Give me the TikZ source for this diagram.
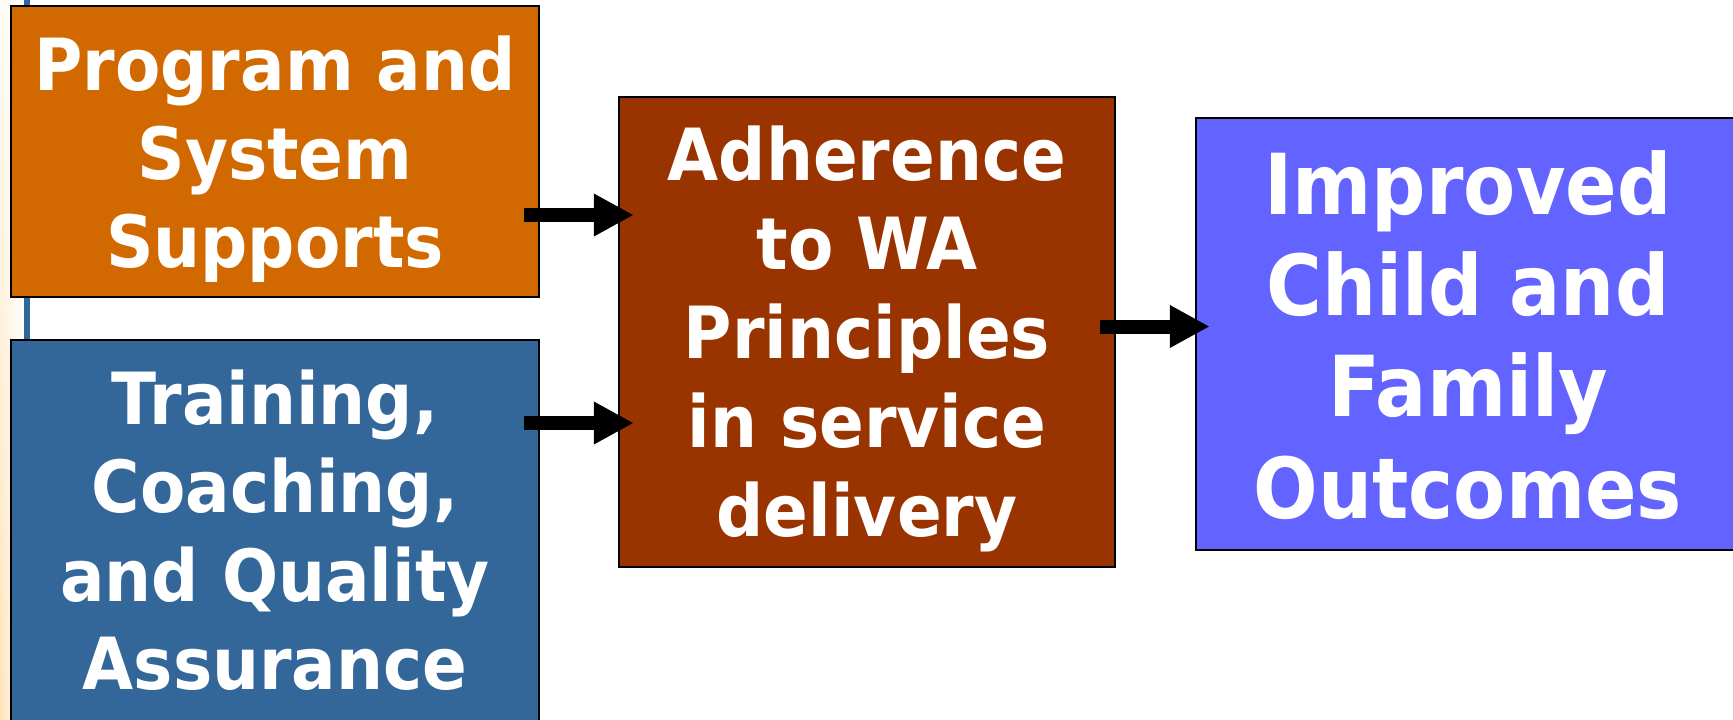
\documentclass[tikz,border=0pt]{standalone}
\usepackage{fontspec}
\setmainfont{DejaVu Sans}
\usetikzlibrary{arrows.meta,fadings}
\definecolor{orangec}{RGB}{210,105,0}
\definecolor{bluec}{RGB}{51,102,153}
\definecolor{brownc}{RGB}{153,51,0}
\definecolor{purplec}{RGB}{99,99,255}
\definecolor{beigec}{RGB}{255,228,185}
\tikzfading[name=fadeup, top color=transparent!85, bottom color=transparent!0]
\begin{document}
\begin{tikzpicture}[x=1pt,y=-1pt,
  box/.style={draw=black, line width=2.5pt, inner sep=0pt, rectangle},
  txt/.style={text=white, inner sep=0pt, anchor=base, font=\bfseries},
  arr/.style={line width=14pt, -{Triangle[length=40pt,width=40pt]}}]
\useasboundingbox (0,0) rectangle (1733,720);
\clip (0,0) rectangle (1733,720);
\fill[white] (0,0) rectangle (1733,720);
\shade[left color=beigec, right color=white, path fading=fadeup] (0,0) rectangle (24,720);
\draw[bluec, line width=6pt] (27,-5) -- (27,725);
% boxes
\node[box, fill=orangec, minimum width=528pt, minimum height=291pt] (o) at (275,151.5) {};
\node[box, fill=bluec, minimum width=528pt, minimum height=400pt] (t) at (275,540) {};
\node[box, fill=brownc, minimum width=496pt, minimum height=470pt] (r) at (867,332) {};
\node[box, fill=purplec, minimum width=544pt, minimum height=432pt] (p) at (1468,334) {};
% texts
\node[txt] (ot) at (275,90.7) {\scalebox{1}[1.09]{\fontsize{66}{81.2}\selectfont\begin{tabular}[t]{@{}c@{}}Program and\\System\\Supports\end{tabular}}};
\node[txt] (tt) at (275,424) {\scalebox{1}[1.09]{\fontsize{66}{81.2}\selectfont\begin{tabular}[t]{@{}c@{}}Training,\\Coaching,\\and Quality\\Assurance\end{tabular}}};
\node[txt] (rt) at (867,180.7) {\scalebox{1}[1.09]{\fontsize{66}{81.7}\selectfont\begin{tabular}[t]{@{}c@{}}Adherence\\to WA\\Principles\\in service\\delivery\end{tabular}}};
\node[txt] (pt) at (1468,214) {\scalebox{1}[1.107]{\fontsize{76}{91.6}\selectfont\begin{tabular}[t]{@{}c@{}}Improved\\Child and\\Family\\Outcomes\end{tabular}}};
% arrows
\draw[arr, shorten <=-16pt, shorten >=-16pt] (o.east |- 0,215) -- (r.west |- 0,215);
\draw[arr, shorten <=-16pt, shorten >=-16pt] (t.east |- 0,423) -- (r.west |- 0,423);
\draw[arr, shorten <=-16pt, shorten >=-15pt] (r.east |- 0,326.5) -- (p.west |- 0,326.5);
\end{tikzpicture}
\end{document}
